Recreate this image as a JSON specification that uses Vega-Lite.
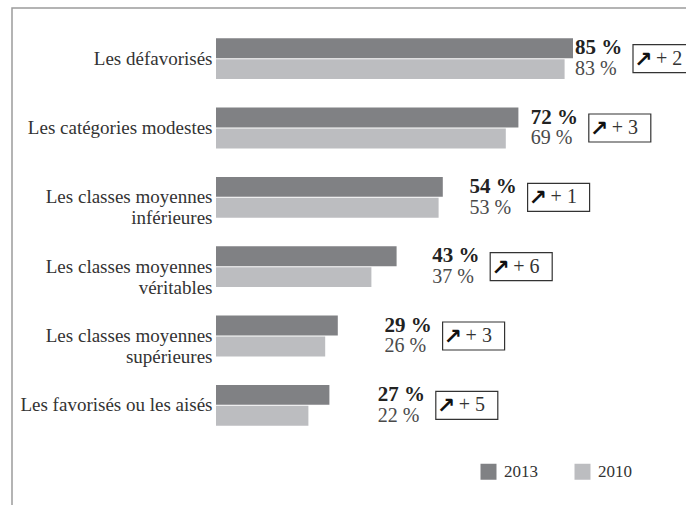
{
  "$schema": "https://vega.github.io/schema/vega-lite/v6.json",
  "autosize": "none",
  "padding": {"left": 12, "top": 8, "right": 0, "bottom": 0},
  "width": 678,
  "height": 502,
  "background": "white",
  "config": {
    "font": "Liberation Serif",
    "view": {"stroke": "#9c9c9c", "strokeWidth": 1.5}
  },
  "data": {
    "values": [
      {"category": "Les défavorisés", "year": "2013", "value": 85, "change": "+ 2"},
      {"category": "Les défavorisés", "year": "2010", "value": 83, "change": "+ 2"},
      {"category": "Les catégories modestes", "year": "2013", "value": 72, "change": "+ 3"},
      {"category": "Les catégories modestes", "year": "2010", "value": 69, "change": "+ 3"},
      {"category": "Les classes moyennes inférieures", "year": "2013", "value": 54, "change": "+ 1"},
      {"category": "Les classes moyennes inférieures", "year": "2010", "value": 53, "change": "+ 1"},
      {"category": "Les classes moyennes véritables", "year": "2013", "value": 43, "change": "+ 6"},
      {"category": "Les classes moyennes véritables", "year": "2010", "value": 37, "change": "+ 6"},
      {"category": "Les classes moyennes supérieures", "year": "2013", "value": 29, "change": "+ 3"},
      {"category": "Les classes moyennes supérieures", "year": "2010", "value": 26, "change": "+ 3"},
      {"category": "Les favorisés ou les aisés", "year": "2013", "value": 27, "change": "+ 5"},
      {"category": "Les favorisés ou les aisés", "year": "2010", "value": 22, "change": "+ 5"}
    ]
  },
  "transform": [
    {"joinaggregate": [{"op": "max", "field": "value", "as": "top"}], "groupby": ["category"]},
    {"calculate": "datum.value + ' %'", "as": "label"}
  ],
  "resolve": {"scale": {"x": "independent"}},
  "layer": [
    {
      "mark": {"type": "bar"},
      "encoding": {
        "x": {"field": "value", "type": "quantitative", "scale": {"domain": [0, 100], "range": [204, 624]}, "axis": null},
        "y": {
          "field": "category", "type": "nominal", "sort": null,
          "scale": {
            "domain": ["Les défavorisés", "Les catégories modestes", "Les classes moyennes inférieures", "Les classes moyennes véritables", "Les classes moyennes supérieures", "Les favorisés ou les aisés"],
            "range": [16, 432], "paddingInner": 0.41, "paddingOuter": 0.205
          },
          "axis": {
            "orient": "left", "offset": -204, "title": null, "domain": false, "ticks": false,
            "labelPadding": 4, "labelFont": "Liberation Serif", "labelFontSize": 19, "labelColor": "#333333",
            "labelLineHeight": 21, "labelLimit": 0, "labelBaseline": "middle",
            "labelExpr": "indexof(datum.label, 'Les classes moyennes ') == 0 ? ['Les classes moyennes', substring(datum.label, 21)] : datum.label"
          }
        },
        "yOffset": {"field": "year", "type": "nominal", "scale": {"domain": ["2013", "2010"], "paddingInner": 0.05}},
        "color": {
          "field": "year", "type": "nominal",
          "scale": {"domain": ["2013", "2010"], "range": ["#808184", "#bcbdc0"]},
          "legend": {
            "orient": "none", "legendX": 468, "legendY": 455, "direction": "horizontal", "title": null,
            "symbolType": "square", "symbolSize": 256, "symbolStrokeWidth": 0, "padding": 0,
            "labelFont": "Liberation Serif", "labelFontSize": 17, "labelColor": "#333333",
            "labelOffset": 7, "columnPadding": 36
          }
        }
      }
    },
    {
      "transform": [{"filter": "datum.year == '2013'"}],
      "mark": {"type": "text", "align": "left", "baseline": "middle", "font": "Liberation Serif", "fontWeight": "bold", "fontSize": 21, "color": "#222222"},
      "encoding": {
        "x": {"field": "top", "type": "quantitative", "scale": {"domain": [0, 100], "range": [274, 614]}, "axis": null},
        "y": {"field": "category", "type": "nominal", "sort": null},
        "yOffset": {"field": "year", "type": "nominal"},
        "text": {"field": "label"}
      }
    },
    {
      "transform": [{"filter": "datum.year == '2010'"}],
      "mark": {"type": "text", "align": "left", "baseline": "middle", "font": "Liberation Serif", "fontSize": 20, "color": "#4a4a4a"},
      "encoding": {
        "x": {"field": "top", "type": "quantitative", "scale": {"domain": [0, 100], "range": [274, 614]}, "axis": null},
        "y": {"field": "category", "type": "nominal", "sort": null},
        "yOffset": {"field": "year", "type": "nominal"},
        "text": {"field": "label"}
      }
    },
    {
      "transform": [{"filter": "datum.year == '2013'"}],
      "mark": {"type": "bar", "size": 28, "xOffset": 58, "x2Offset": 120, "fill": "white", "stroke": "#333333", "strokeWidth": 1.2},
      "encoding": {
        "x": {"field": "top", "type": "quantitative", "scale": {"domain": [0, 100], "range": [274, 614]}, "axis": null},
        "x2": {"field": "top"},
        "y": {"field": "category", "type": "nominal", "sort": null}
      }
    },
    {
      "transform": [{"filter": "datum.year == '2013'"}],
      "mark": {"type": "text", "align": "left", "baseline": "middle", "dx": 59, "dy": 1, "font": "DejaVu Sans", "fontWeight": "bold", "fontSize": 22, "color": "#111111"},
      "encoding": {
        "x": {"field": "top", "type": "quantitative", "scale": {"domain": [0, 100], "range": [274, 614]}, "axis": null},
        "y": {"field": "category", "type": "nominal", "sort": null},
        "text": {"value": "↗"}
      }
    },
    {
      "transform": [{"filter": "datum.year == '2013'"}],
      "mark": {"type": "text", "align": "left", "baseline": "middle", "dx": 81, "font": "Liberation Serif", "fontSize": 20, "color": "#333333"},
      "encoding": {
        "x": {"field": "top", "type": "quantitative", "scale": {"domain": [0, 100], "range": [274, 614]}, "axis": null},
        "y": {"field": "category", "type": "nominal", "sort": null},
        "text": {"field": "change"}
      }
    }
  ]
}
